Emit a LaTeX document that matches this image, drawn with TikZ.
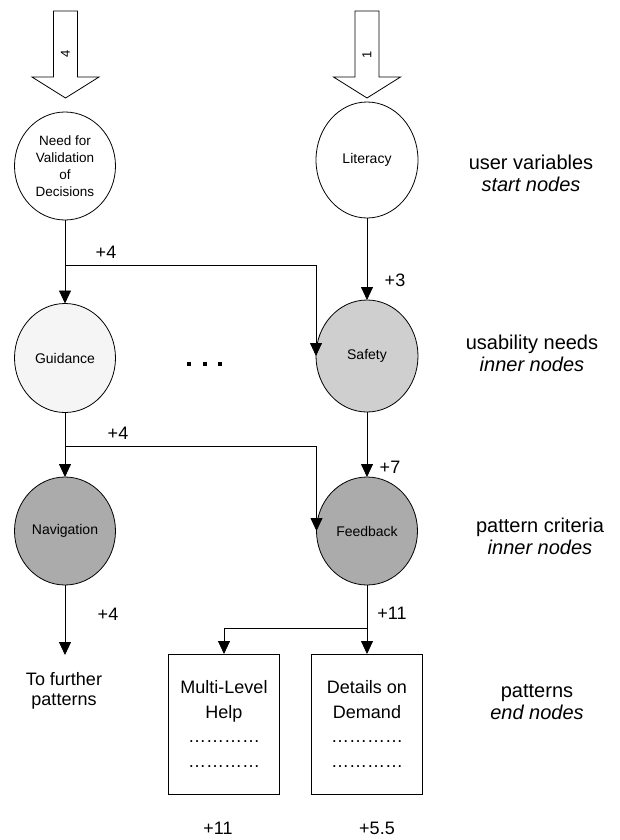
\documentclass[tikz,border=0pt]{standalone}
\usepackage{fontspec}
\setmainfont{Liberation Sans}
\usetikzlibrary{shapes.geometric,arrows.meta}

\begin{document}
\begin{tikzpicture}[x=1pt,y=-1pt,
  every node/.style={inner sep=0pt, outer sep=0pt},
  varnode/.style={ellipse, draw, line width=0.8pt, minimum width=101pt,
    minimum height=110pt, align=center, font=\fontsize{14}{17}\selectfont},
  link/.style={line width=0.8pt, -{Triangle[width=12pt,length=13pt]}},
  plain/.style={line width=0.8pt},
  endbox/.style={draw, line width=1pt, minimum width=111pt, minimum height=140pt,
    align=center, font=\fontsize{18}{24.5}\selectfont},
  weight/.style={font=\fontsize{18}{20}\selectfont},
  layer/.style={align=center, font=\fontsize{20}{22}\selectfont},
  bigarrow/.style={draw, line width=0.8pt, fill=white},
  tally/.style={rotate=90, font=\fontsize{13}{13}\selectfont},
]
\useasboundingbox (0,0) rectangle (619,840);

% block arrows feeding the start nodes
\foreach \cx/\num/\ny in {65.5/4/54, 367/1/55} {
  \draw[bigarrow] (\cx-12,11) -- (\cx+12,11) -- (\cx+12,77) -- (\cx+33.5,77)
    -- (\cx,98) -- (\cx-33.5,77) -- (\cx-12,77) -- cycle;
  \node[tally] at (\cx,\ny) {\num};
}

% start nodes
\node[varnode, minimum height=108pt, font=\fontsize{13.5}{17}\selectfont] (need) at (65,166)
  {Need for\\Validation\\of\\Decisions};
\node[varnode, minimum width=102pt, minimum height=116pt] (lit) at (367,160) {Literacy};

% usability needs
\node[varnode, minimum height=109pt, fill=black!4] (guid) at (65,358) {Guidance};
\node[varnode, minimum width=102pt, minimum height=112pt, fill=black!19] (safe) at (367,356) {Safety};

% pattern criteria
\node[varnode, minimum height=108pt, fill=black!33] (nav) at (65,531) {Navigation};
\node[varnode, minimum height=108pt, fill=black!33] (feed) at (367,531) {Feedback};

% omitted nodes
\foreach \dx in {189,204.5,220} \fill (\dx-2,362) rectangle (\dx+2,366);

% end nodes
\node[endbox] (mlh) at (224,724) {Multi-Level\\Help\\…………\\…………};
\node[endbox] (dod) at (367,724) {Details on\\Demand\\…………\\…………};

% branch points and loose end
\coordinate (b1) at ([yshift=-45pt]need.south);
\coordinate (b2) at ([yshift=-34pt]guid.south);
\coordinate (j) at ([yshift=-43pt]feed.south);
\coordinate (fur) at (65,655);

% connectors
\draw[link] (need) -- (guid);
\draw[link] (b1) -| (safe.west);
\draw[link] (lit) -- (safe);
\draw[link] (guid) -- (nav);
\draw[link] (b2) -| (feed.west);
\draw[link] (safe) -- (feed);
\draw[link] (nav) -- (fur);
\draw[plain] (feed) -- (j);
\draw[link] (j) -- (dod);
\draw[link] (j) -| (mlh.north);

% weights
\node[weight] (w1) at (106,252) {+4};
\node[weight] (w2) at (395,280) {+3};
\node[weight] (w3) at (118,433) {+4};
\node[weight] (w4) at (390,467) {+7};
\node[weight] (w5) at (108,614) {+4};
\node[weight] (w6) at (392,613) {+11};
\node[weight] (w7) at (218,828) {+11};
\node[weight] (w8) at (377,828) {+5.5};

\node[align=center, font=\fontsize{18}{20}\selectfont] (further) at (64,691) {To further\\patterns};

% layer captions
\node[layer] (l1) at (531,173) {user variables\\\textit{start nodes}};
\node[layer] (l2) at (532,353) {usability needs\\\textit{inner nodes}};
\node[layer] (l3) at (540,536) {pattern criteria\\\textit{inner nodes}};
\node[layer] (l4) at (537,702) {patterns\\\textit{end nodes}};
\end{tikzpicture}
\end{document}
